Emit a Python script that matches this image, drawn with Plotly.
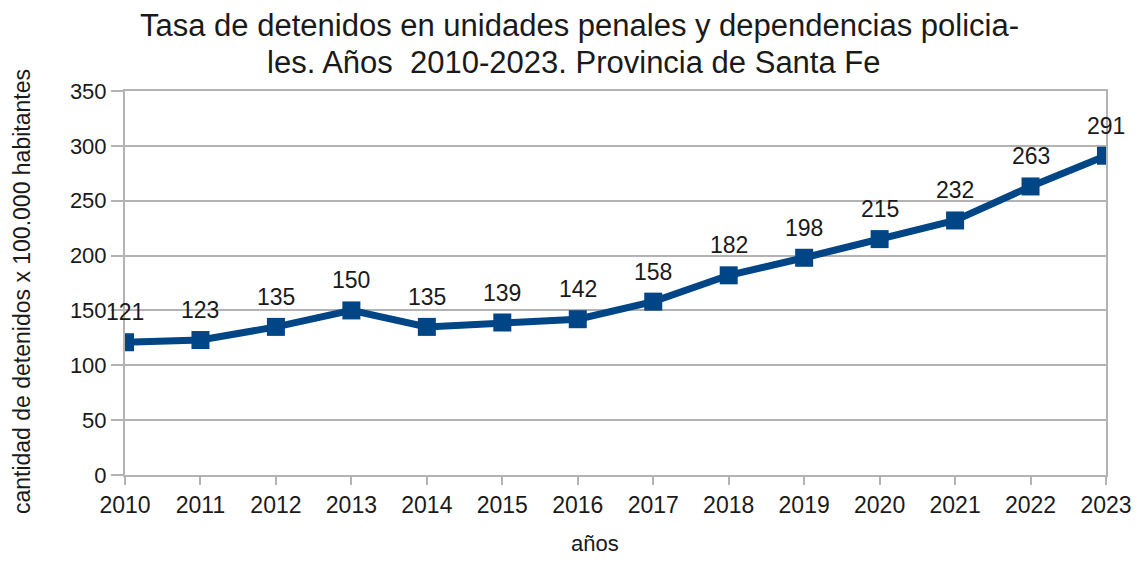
import plotly.graph_objects as go

# Datos
anios = [2010, 2011, 2012, 2013, 2014, 2015, 2016, 2017, 2018, 2019, 2020, 2021, 2022, 2023]
tasa = [121, 123, 135, 150, 135, 139, 142, 158, 182, 198, 215, 232, 263, 291]
y_ticks = [0, 50, 100, 150, 200, 250, 300, 350]

titulo_1 = "Tasa de detenidos en unidades penales y dependencias policia-"
titulo_2 = "les. Años  2010-2023. Provincia de Santa Fe"
titulo_x = "años"
titulo_y = "cantidad de detenidos x 100.000 habitantes"

AZUL = "#004586"
GRIS = "#b3b3b3"
TEXTO = "#1a1a1a"

fig = go.Figure()
fig.add_trace(go.Scatter(
    x=anios, y=tasa,
    mode="lines+markers",
    line=dict(color=AZUL, width=7),
    marker=dict(symbol="square", size=18, color=AZUL),
    showlegend=False,
))

# etiquetas de datos
for a, v in zip(anios, tasa):
    fig.add_annotation(x=a, y=v, text=str(v), showarrow=False, yshift=30,
                       font=dict(size=23, color=TEXTO))

# titulos como anotaciones
def texto(x, y, t, size, angle=0):
    fig.add_annotation(xref="paper", yref="paper", x=x, y=y, text=t,
                       xanchor="center", yanchor="middle", textangle=angle,
                       borderpad=0, showarrow=False, font=dict(size=size, color=TEXTO))

texto(0.4628, 1.1693, titulo_1, 31)
texto(0.4577, 1.0755, titulo_2, 31)
texto(0.479, -0.1771, titulo_x, 22)
texto(-0.105, 0.479, titulo_y, 23, -90)

# la pagina tiene 8px de margen en el body
fig.update_layout(
    width=1124, height=548,
    margin=dict(l=117, r=26, t=83, b=81),
    paper_bgcolor="white", plot_bgcolor="white",
    font=dict(family="Liberation Sans, Arial, sans-serif", color=TEXTO),
)
fig.update_xaxes(
    range=[2010, 2023], tickmode="array", tickvals=anios,
    ticktext=[str(a) for a in anios], automargin=False,
    showgrid=False, showline=True, linecolor=GRIS, linewidth=2, mirror=True,
    ticks="outside", ticklen=8, tickcolor=GRIS, tickwidth=2, tickfont=dict(size=23),
)
fig.update_yaxes(
    range=[0, 350], tickmode="array", tickvals=y_ticks, automargin=False,
    showgrid=True, gridcolor=GRIS, gridwidth=2,
    showline=True, linecolor=GRIS, linewidth=2, mirror=True,
    ticks="outside", ticklen=12, tickcolor=GRIS, tickwidth=2, tickfont=dict(size=22),
    zeroline=False,
)

fig.write_html("out.html")
